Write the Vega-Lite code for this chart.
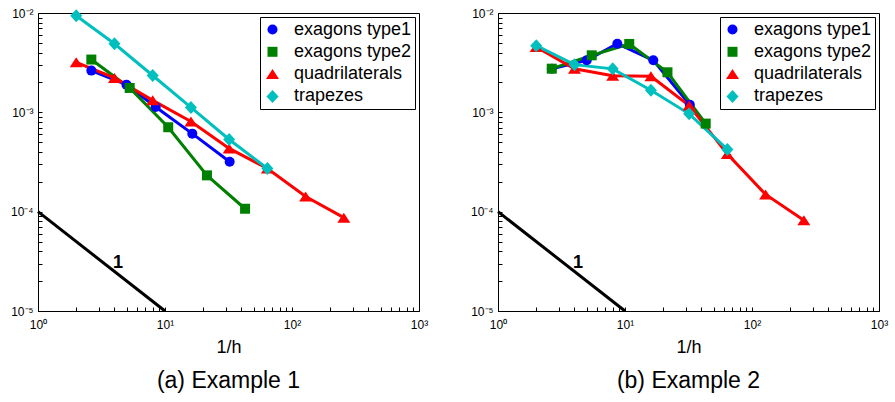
{
  "$schema": "https://vega.github.io/schema/vega-lite/v6.json",
  "padding": {"left": 9, "top": 6, "right": 5, "bottom": 5},
  "datasets": {
    "a": [
      {"s": "exagons type1", "x": 2.63, "y": 0.00263},
      {"s": "exagons type1", "x": 4.97, "y": 0.0019},
      {"s": "exagons type1", "x": 8.45, "y": 0.00113},
      {"s": "exagons type1", "x": 16.4, "y": 0.00061},
      {"s": "exagons type1", "x": 32.3, "y": 0.000318},
      {"s": "exagons type2", "x": 2.63, "y": 0.0034},
      {"s": "exagons type2", "x": 5.27, "y": 0.00176},
      {"s": "exagons type2", "x": 10.6, "y": 0.000708},
      {"s": "exagons type2", "x": 21.4, "y": 0.000232},
      {"s": "exagons type2", "x": 42.7, "y": 0.000107},
      {"s": "quadrilaterals", "x": 2, "y": 0.00319},
      {"s": "quadrilaterals", "x": 4, "y": 0.00222},
      {"s": "quadrilaterals", "x": 8, "y": 0.00132},
      {"s": "quadrilaterals", "x": 16, "y": 0.00081},
      {"s": "quadrilaterals", "x": 32, "y": 0.000433},
      {"s": "quadrilaterals", "x": 64, "y": 0.000272},
      {"s": "quadrilaterals", "x": 128, "y": 0.000142},
      {"s": "quadrilaterals", "x": 256, "y": 0.000087},
      {"s": "trapezes", "x": 2, "y": 0.0094},
      {"s": "trapezes", "x": 4, "y": 0.0049},
      {"s": "trapezes", "x": 8, "y": 0.00235},
      {"s": "trapezes", "x": 16, "y": 0.00112},
      {"s": "trapezes", "x": 32, "y": 0.000533},
      {"s": "trapezes", "x": 64, "y": 0.000272}
    ],
    "b": [
      {"s": "exagons type1", "x": 2.65, "y": 0.00275},
      {"s": "exagons type1", "x": 5.0, "y": 0.00334},
      {"s": "exagons type1", "x": 8.7, "y": 0.00491},
      {"s": "exagons type1", "x": 16.7, "y": 0.00334},
      {"s": "exagons type1", "x": 32.4, "y": 0.00119},
      {"s": "exagons type2", "x": 2.65, "y": 0.00275},
      {"s": "exagons type2", "x": 5.47, "y": 0.00375},
      {"s": "exagons type2", "x": 10.8, "y": 0.00488},
      {"s": "exagons type2", "x": 21.6, "y": 0.00253},
      {"s": "exagons type2", "x": 43.2, "y": 0.00077},
      {"s": "quadrilaterals", "x": 2, "y": 0.00455},
      {"s": "quadrilaterals", "x": 4, "y": 0.00274},
      {"s": "quadrilaterals", "x": 8, "y": 0.00234},
      {"s": "quadrilaterals", "x": 16, "y": 0.00231},
      {"s": "quadrilaterals", "x": 32, "y": 0.00117},
      {"s": "quadrilaterals", "x": 64, "y": 0.00038},
      {"s": "quadrilaterals", "x": 128, "y": 0.000149},
      {"s": "quadrilaterals", "x": 256, "y": 0.000082},
      {"s": "trapezes", "x": 2, "y": 0.00469},
      {"s": "trapezes", "x": 4, "y": 0.00302},
      {"s": "trapezes", "x": 8, "y": 0.00274},
      {"s": "trapezes", "x": 16, "y": 0.00167},
      {"s": "trapezes", "x": 32, "y": 0.000966},
      {"s": "trapezes", "x": 64, "y": 0.000423}
    ],
    "ref": [{"x": 1, "y": 0.0001}, {"x": 10, "y": 0.00001}],
    "lbl": [{"x": 4.27, "y": 0.0000307, "t": "1"}]
  },
  "config": {
    "font": "Liberation Sans",
    "view": {"stroke": "black", "strokeWidth": 1},
    "axis": {"grid": false, "labelFont": "Liberation Sans", "labelFontSize": 12, "labelColor": "black", "tickColor": "black", "domainColor": "black", "labelOverlap": false, "labelFlush": false},
    "legend": {"labelFont": "Liberation Sans", "labelFontSize": 18, "labelColor": "black"}
  },
  "spacing": 40,
  "resolve": {"scale": {"color": "independent", "shape": "independent"}, "legend": {"color": "independent", "shape": "independent"}},
  "hconcat": [
    {
      "width": 381,
      "height": 298,
      "title": {"text": "(a) Example 1", "orient": "bottom", "fontSize": 23, "fontWeight": "normal", "offset": 14},
      "layer": [
        {
          "data": {"name": "ref"},
          "mark": {"type": "line", "color": "black", "strokeWidth": 3},
          "encoding": {
            "x": {"field": "x", "type": "quantitative", "scale": {"type": "log", "domain": [1, 1000], "nice": false},
              "axis": {"orient": "bottom", "values": [1,2,3,4,5,6,7,8,9,10,20,30,40,50,60,70,80,90,100,200,300,400,500,600,700,800,900,1000],
                "labelExpr": "abs(log(datum.value)/LN10 - round(log(datum.value)/LN10)) < 1e-6 ? '10' + ['⁰','¹','²','³'][round(log(datum.value)/LN10)] : ''",
                "tickSize": -4, "labelPadding": 12, "title": "1/h", "titleFontSize": 18, "titleFontWeight": "normal", "titleColor": "black", "titlePadding": 8}},
            "y": {"field": "y", "type": "quantitative", "scale": {"type": "log", "domain": [0.00001, 0.01], "nice": false},
              "axis": {"orient": "left", "values": [0.00001,0.00002,0.00003,0.00004,0.00005,0.00006,0.00007,0.00008,0.00009,0.0001,0.0002,0.0003,0.0004,0.0005,0.0006,0.0007,0.0008,0.0009,0.001,0.002,0.003,0.004,0.005,0.006,0.007,0.008,0.009,0.01],
                "labelExpr": "abs(log(datum.value)/LN10 - round(log(datum.value)/LN10)) < 1e-6 ? '10⁻' + ['⁰','¹','²','³','⁴','⁵'][-round(log(datum.value)/LN10)] : ''",
                "tickSize": -4, "labelPadding": 9, "title": null}}
          }
        },
        {
          "data": {"name": "a"},
          "mark": {"type": "line", "strokeWidth": 3},
          "encoding": {
            "x": {"field": "x", "type": "quantitative"},
            "y": {"field": "y", "type": "quantitative"},
            "stroke": {"field": "s", "type": "nominal", "legend": null,
              "scale": {"domain": ["exagons type1", "exagons type2", "quadrilaterals", "trapezes"], "range": ["#0000ff", "#008000", "#ff0000", "#00bfbf"]}}
          }
        },
        {
          "data": {"name": "a"},
          "mark": {"type": "point", "filled": true, "opacity": 1, "size": 100},
          "encoding": {
            "x": {"field": "x", "type": "quantitative"},
            "y": {"field": "y", "type": "quantitative"},
            "color": {"field": "s", "type": "nominal",
              "scale": {"domain": ["exagons type1", "exagons type2", "quadrilaterals", "trapezes"], "range": ["#0000ff", "#008000", "#ff0000", "#00bfbf"]},
              "legend": {"title": null, "orient": "top-right", "offset": 4, "strokeColor": "black", "fillColor": "white", "padding": 3.5, "rowPadding": 4.3, "labelOffset": 12.5, "labelLimit": 400, "symbolSize": 100, "symbolStrokeWidth": 0}},
            "shape": {"field": "s", "type": "nominal",
              "scale": {"domain": ["exagons type1", "exagons type2", "quadrilaterals", "trapezes"], "range": ["circle", "square", "M0,-1L1.3,1L-1.3,1Z", "M0,-1.3L1.2,0L0,1.3L-1.2,0Z"]},
              "legend": {"title": null, "orient": "top-right", "offset": 4, "strokeColor": "black", "fillColor": "white", "padding": 3.5, "rowPadding": 4.3, "labelOffset": 12.5, "labelLimit": 400, "symbolSize": 100, "symbolStrokeWidth": 0}}
          }
        },
        {
          "data": {"name": "lbl"},
          "mark": {"type": "text", "fontSize": 18, "fontWeight": "bold", "color": "black", "font": "Liberation Sans"},
          "encoding": {
            "x": {"field": "x", "type": "quantitative"},
            "y": {"field": "y", "type": "quantitative"},
            "text": {"field": "t"}
          }
        }
      ]
    },
    {
      "width": 381,
      "height": 298,
      "title": {"text": "(b) Example 2", "orient": "bottom", "fontSize": 23, "fontWeight": "normal", "offset": 14},
      "layer": [
        {
          "data": {"name": "ref"},
          "mark": {"type": "line", "color": "black", "strokeWidth": 3},
          "encoding": {
            "x": {"field": "x", "type": "quantitative", "scale": {"type": "log", "domain": [1, 1000], "nice": false},
              "axis": {"orient": "bottom", "values": [1,2,3,4,5,6,7,8,9,10,20,30,40,50,60,70,80,90,100,200,300,400,500,600,700,800,900,1000],
                "labelExpr": "abs(log(datum.value)/LN10 - round(log(datum.value)/LN10)) < 1e-6 ? '10' + ['⁰','¹','²','³'][round(log(datum.value)/LN10)] : ''",
                "tickSize": -4, "labelPadding": 12, "title": "1/h", "titleFontSize": 18, "titleFontWeight": "normal", "titleColor": "black", "titlePadding": 8}},
            "y": {"field": "y", "type": "quantitative", "scale": {"type": "log", "domain": [0.00001, 0.01], "nice": false},
              "axis": {"orient": "left", "values": [0.00001,0.00002,0.00003,0.00004,0.00005,0.00006,0.00007,0.00008,0.00009,0.0001,0.0002,0.0003,0.0004,0.0005,0.0006,0.0007,0.0008,0.0009,0.001,0.002,0.003,0.004,0.005,0.006,0.007,0.008,0.009,0.01],
                "labelExpr": "abs(log(datum.value)/LN10 - round(log(datum.value)/LN10)) < 1e-6 ? '10⁻' + ['⁰','¹','²','³','⁴','⁵'][-round(log(datum.value)/LN10)] : ''",
                "tickSize": -4, "labelPadding": 9, "title": null}}
          }
        },
        {
          "data": {"name": "b"},
          "mark": {"type": "line", "strokeWidth": 3},
          "encoding": {
            "x": {"field": "x", "type": "quantitative"},
            "y": {"field": "y", "type": "quantitative"},
            "stroke": {"field": "s", "type": "nominal", "legend": null,
              "scale": {"domain": ["exagons type1", "exagons type2", "quadrilaterals", "trapezes"], "range": ["#0000ff", "#008000", "#ff0000", "#00bfbf"]}}
          }
        },
        {
          "data": {"name": "b"},
          "mark": {"type": "point", "filled": true, "opacity": 1, "size": 100},
          "encoding": {
            "x": {"field": "x", "type": "quantitative"},
            "y": {"field": "y", "type": "quantitative"},
            "color": {"field": "s", "type": "nominal",
              "scale": {"domain": ["exagons type1", "exagons type2", "quadrilaterals", "trapezes"], "range": ["#0000ff", "#008000", "#ff0000", "#00bfbf"]},
              "legend": {"title": null, "orient": "top-right", "offset": 4, "strokeColor": "black", "fillColor": "white", "padding": 3.5, "rowPadding": 4.3, "labelOffset": 12.5, "labelLimit": 400, "symbolSize": 100, "symbolStrokeWidth": 0}},
            "shape": {"field": "s", "type": "nominal",
              "scale": {"domain": ["exagons type1", "exagons type2", "quadrilaterals", "trapezes"], "range": ["circle", "square", "M0,-1L1.3,1L-1.3,1Z", "M0,-1.3L1.2,0L0,1.3L-1.2,0Z"]},
              "legend": {"title": null, "orient": "top-right", "offset": 4, "strokeColor": "black", "fillColor": "white", "padding": 3.5, "rowPadding": 4.3, "labelOffset": 12.5, "labelLimit": 400, "symbolSize": 100, "symbolStrokeWidth": 0}}
          }
        },
        {
          "data": {"name": "lbl"},
          "mark": {"type": "text", "fontSize": 18, "fontWeight": "bold", "color": "black", "font": "Liberation Sans"},
          "encoding": {
            "x": {"field": "x", "type": "quantitative"},
            "y": {"field": "y", "type": "quantitative"},
            "text": {"field": "t"}
          }
        }
      ]
    }
  ]
}
